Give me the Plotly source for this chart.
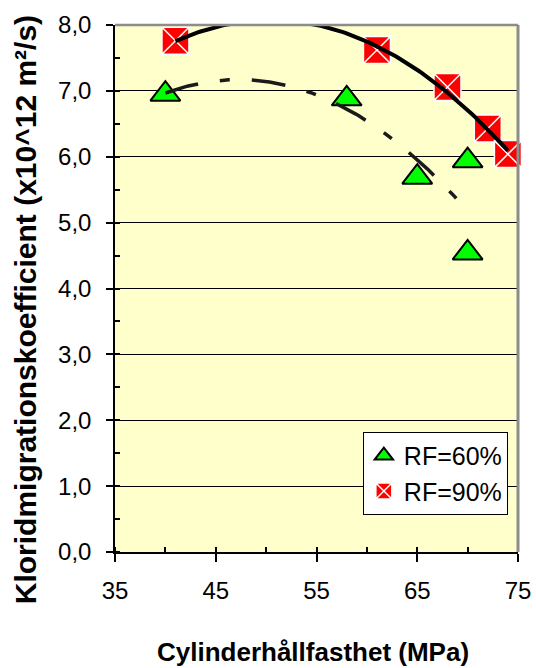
import numpy as np
import plotly.graph_objects as go

# ---- data ----
rf60_x = [40, 58, 65, 70, 70]
rf60_y = [6.95, 6.88, 5.69, 5.94, 4.54]
rf90_x = [41, 61, 68, 72, 74]
rf90_y = [7.76, 7.62, 7.06, 6.43, 6.04]
names = ["RF=60%", "RF=90%"]
x_title = "Cylinderhållfasthet (MPa)"
y_title = "Kloridmigrationskoefficient (x10^12 m²/s)"

# second-order polynomial trendlines (as in the original spreadsheet chart)
c60 = np.polyfit(rf60_x, rf60_y, 2)
c90 = np.polyfit(rf90_x, rf90_y, 2)
t60_x = np.linspace(min(rf60_x), max(rf60_x), 120)
t90_x = np.linspace(min(rf90_x), max(rf90_x), 120)
t60_y = np.polyval(c60, t60_x)
t90_y = np.polyval(c90, t90_x)

FONT = "Arial, Liberation Sans, sans-serif"

fig = go.Figure()
fig.add_trace(go.Scatter(
    x=rf60_x, y=rf60_y, mode="markers", name=names[0], legendgroup="a",
    marker=dict(symbol="triangle-up", size=26, color="#00FF00",
                line=dict(color="black", width=2)),
    cliponaxis=False))
fig.add_trace(go.Scatter(
    x=rf90_x, y=rf90_y, mode="markers", name=names[1], legendgroup="b",
    marker=dict(symbol="square-x", size=27, color="#FF0000",
                line=dict(color="white", width=1.5)),
    cliponaxis=False))
fig.add_trace(go.Scatter(
    x=t60_x, y=t60_y, mode="lines", showlegend=False, hoverinfo="skip",
    line=dict(color="#1a1a1a", width=3.5, dash="34px,22px,10px,22px")))
fig.add_trace(go.Scatter(
    x=t90_x, y=t90_y, mode="lines", showlegend=False, hoverinfo="skip",
    line=dict(color="black", width=4)))

fig.update_layout(
    width=536, height=668, autosize=False,
    margin=dict(l=115, r=18, t=25, b=116, pad=0),
    paper_bgcolor="white", plot_bgcolor="#FFFFCC",
    separators=",.",
    font=dict(family=FONT, color="black", size=24),
    showlegend=True,
    legend=dict(x=0.615, y=0.228, xanchor="left", yanchor="top",
                bgcolor="white", bordercolor="black", borderwidth=1,
                font=dict(family=FONT, size=25, color="black"),
                itemsizing="trace", tracegroupgap=0, itemwidth=30),
    xaxis=dict(range=[35, 75], tick0=35, dtick=10, ticks="outside", ticklen=8,
               tickcolor="black", tickwidth=1.5, showline=True, linecolor="black",
               linewidth=1.5, showgrid=False, zeroline=False, automargin=False,
               tickfont=dict(family=FONT, size=24), ticklabelstandoff=8,
               minor=dict(dtick=5, tick0=35, ticks="inside", ticklen=5,
                          tickcolor="black", showgrid=False)),
    yaxis=dict(range=[0, 8], dtick=1, tickformat=".1f", ticks="outside", ticklen=7,
               tickcolor="black", tickwidth=1.5, showline=True, linecolor="black",
               linewidth=1.5, showgrid=True, gridcolor="black", gridwidth=1,
               zeroline=False, automargin=False, tickfont=dict(family=FONT, size=24),
               ticklabelstandoff=10,
               minor=dict(dtick=0.5, ticks="inside", ticklen=5,
                          tickcolor="black", showgrid=False)),
    shapes=[
        dict(type="line", xref="paper", yref="paper", x0=0, x1=1, y0=1, y1=1,
             line=dict(color="#8c8c8c", width=2.5), layer="above"),
        dict(type="line", xref="paper", yref="paper", x0=1, x1=1, y0=0, y1=1,
             line=dict(color="#8c8c8c", width=3), layer="above"),
    ],
    annotations=[
        dict(text="<b>" + x_title + "</b>", xref="paper", yref="paper",
             x=0.491, y=-0.19, xanchor="center", yanchor="middle",
             showarrow=False, font=dict(family=FONT, size=26)),
        dict(text="<b>" + y_title + "</b>", xref="paper", yref="paper",
             x=-0.223, y=0.459, xanchor="center", yanchor="middle",
             textangle=-90, showarrow=False, font=dict(family=FONT, size=30)),
    ],
)

fig.write_html("out.html",
               config={"displayModeBar": False},
               post_script="document.body.style.margin='0';"
                           "document.body.style.overflow='hidden';")
